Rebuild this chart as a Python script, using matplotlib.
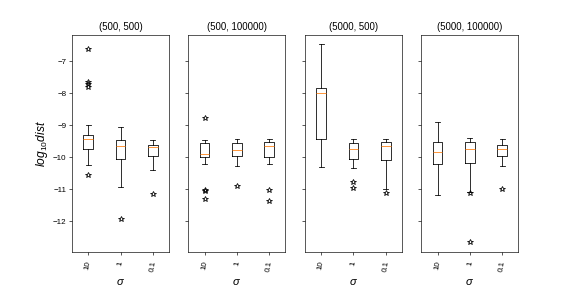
import matplotlib
matplotlib.use("Agg")
import matplotlib.pyplot as plt

plt.rcParams['font.family'] = ['Liberation Sans', 'DejaVu Sans']
plt.rcParams['mathtext.fontset'] = 'custom'
plt.rcParams['mathtext.rm'] = 'Liberation Sans'
plt.rcParams['mathtext.it'] = 'Liberation Sans:italic'

titles = ['(500, 500)', '(500, 100000)', '(5000, 500)', '(5000, 100000)']
sigmas = ['10', '1', '0.1']

# per panel, per sigma: (whislo, q1, med, q3, whishi)
stats = [
    [(-10.26, -9.73, -9.44, -9.30, -8.98),
     (-10.92, -10.06, -9.66, -9.47, -9.04),
     (-10.39, -9.95, -9.69, -9.61, -9.47)],
    [(-10.20, -9.99, -9.89, -9.55, -9.47),
     (-10.29, -9.95, -9.79, -9.55, -9.44),
     (-10.20, -10.01, -9.64, -9.51, -9.44)],
    [(-10.32, -9.43, -8.00, -7.84, -6.47),
     (-10.35, -10.07, -9.75, -9.57, -9.44),
     (-10.99, -10.10, -9.66, -9.51, -9.44)],
    [(-11.17, -10.20, -9.85, -9.54, -8.91),
     (-11.09, -10.18, -9.73, -9.54, -9.41),
     (-10.29, -9.95, -9.73, -9.63, -9.44)],
]
fliers = [
    [[-6.60, -7.66, -7.71, -7.79, -10.56], [-11.94], [-11.16]],
    [[-8.77, -11.03, -11.07, -11.31], [-10.90], [-11.04, -11.38]],
    [[], [-10.78, -10.95], [-11.11]],
    [[], [-11.12, -12.66], [-11.01]],
]

fig, axes = plt.subplots(1, 4, sharey=True, figsize=(10, 5), dpi=57.6)
fig.subplots_adjust(left=0.125, right=0.9, bottom=0.125, top=0.88, wspace=0.2)

for i, ax in enumerate(axes):
    bstats = []
    for j, s in enumerate(sigmas):
        lo, q1, med, q3, hi = stats[i][j]
        bstats.append(dict(whislo=lo, q1=q1, med=med, q3=q3, whishi=hi,
                           fliers=fliers[i][j], label=s))
    ax.bxp(bstats, flierprops=dict(marker='*', markerfacecolor='none',
                                   markeredgecolor='black', markersize=7))
    ax.set_title(titles[i])
    ax.set_xlabel(r'$\sigma$', fontsize=14, labelpad=5)
    ax.tick_params(axis='x', labelrotation=80, pad=7)

axes[0].set_ylabel(r'$log_{10}dist$', fontsize=15)

plt.savefig('out.png', dpi=57.6)
